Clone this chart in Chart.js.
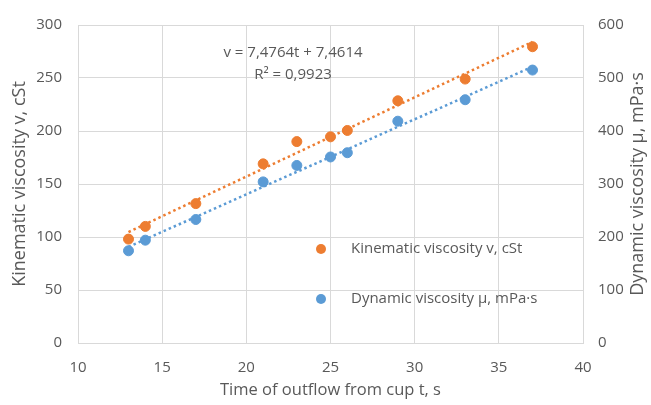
<!DOCTYPE html>
<html>
<head>
<meta charset="utf-8">
<title>Viscosity vs outflow time</title>
<script src="https://cdn.jsdelivr.net/npm/chart.js@4"></script>
<style>
  html, body { margin: 0; padding: 0; background: #fff; }
  #wrap { width: 651px; height: 405px; }
</style>
</head>
<body>
<div id="wrap"><canvas id="chart" width="651" height="405"></canvas></div>
<script>
// データ
const outflowTime = [13, 14, 17, 21, 23, 25, 26, 29, 33, 37];
const kinematic = [98, 110, 131.5, 169, 190, 194.5, 200.5, 228.5, 249, 279.5];
const dynamic = [174, 194, 233, 304, 335, 351, 359, 418.5, 459, 515];

const seriesNames = ['Kinematic viscosity v, cSt', 'Dynamic viscosity μ, mPa·s'];
const xTitle = 'Time of outflow from cup t, s';
const trendText = ['v = 7,4764t + 7,4614', 'R² = 0,9923'];
const trendSlope = 7.4764;
const trendIntercept = 7.4614;

const ORANGE = '#ED7D31';
const BLUE = '#5B9BD5';
const TXT = '#595959';
const GRID = '#D9D9D9';
const FAMILY = 'Open Sans';
const FONT = { family: FAMILY, size: 15 };

// 線形近似 (最小二乗)
function linFit(xs, ys) {
    const n = xs.length;
    let sx = 0, sy = 0, sxx = 0, sxy = 0;
    for (let i = 0; i < n; i++) { sx += xs[i]; sy += ys[i]; sxx += xs[i] * xs[i]; sxy += xs[i] * ys[i]; }
    const b = (n * sxy - sx * sy) / (n * sxx - sx * sx);
    return { b: b, a: (sy - b * sx) / n };
}

const tMin = outflowTime[0];
const tMax = outflowTime[outflowTime.length - 1];
const dynFit = linFit(outflowTime, dynamic);

const kinTrend = [tMin, tMax].map(t => ({ x: t, y: trendSlope * t + trendIntercept }));
const dynTrend = [tMin, tMax].map(t => ({ x: t, y: dynFit.b * t + dynFit.a }));

// 凡例・近似式・右軸タイトル
const overlayPlugin = {
    id: 'overlay',
    afterDraw(chart) {
        const ctx = chart.ctx;
        const a = chart.chartArea;
        ctx.save();
        ctx.font = `15px "${FAMILY}"`;
        ctx.fillStyle = TXT;
        ctx.textBaseline = 'middle';

        // 近似式
        ctx.textAlign = 'center';
        ctx.fillText(trendText[0], a.left + 215, 53);
        ctx.fillText(trendText[1], a.left + 215, 75);

        // 凡例
        const items = [[seriesNames[0], ORANGE, 249], [seriesNames[1], BLUE, 299]];
        items.forEach(it => {
            ctx.beginPath();
            ctx.fillStyle = it[1];
            ctx.arc(a.left + 243, it[2], 5, 0, Math.PI * 2);
            ctx.fill();
            ctx.fillStyle = TXT;
            ctx.textAlign = 'left';
            ctx.fillText(it[0], a.left + 273, it[2]);
        });

        // 右軸タイトル (下から上へ)
        ctx.font = `18px "${FAMILY}"`;
        ctx.translate(638, (a.top + a.bottom) / 2);
        ctx.rotate(-Math.PI / 2);
        ctx.textAlign = 'center';
        ctx.fillText(seriesNames[1], 0, 0);
        ctx.restore();
    }
};

new Chart(document.getElementById('chart'), {
    type: 'scatter',
    data: {
        datasets: [
            {
                label: seriesNames[0],
                data: outflowTime.map((t, i) => ({ x: t, y: kinematic[i] })),
                yAxisID: 'y',
                backgroundColor: ORANGE, borderColor: ORANGE,
                pointRadius: 5, pointHoverRadius: 5, order: 1
            },
            {
                label: seriesNames[1],
                data: outflowTime.map((t, i) => ({ x: t, y: dynamic[i] })),
                yAxisID: 'y1',
                backgroundColor: BLUE, borderColor: BLUE,
                pointRadius: 5, pointHoverRadius: 5, order: 1
            },
            {
                type: 'line', label: 'trend1', data: kinTrend, yAxisID: 'y',
                borderColor: ORANGE, borderWidth: 2.5, borderDash: [2.5, 3],
                pointRadius: 0, fill: false, order: 2
            },
            {
                type: 'line', label: 'trend2', data: dynTrend, yAxisID: 'y1',
                borderColor: BLUE, borderWidth: 2.5, borderDash: [2.5, 3],
                pointRadius: 0, fill: false, order: 2
            }
        ]
    },
    options: {
        responsive: false,
        animation: false,
        layout: { padding: { top: 19 } },
        plugins: { legend: { display: false }, tooltip: { enabled: false } },
        scales: {
            x: {
                type: 'linear', min: 10, max: 40,
                ticks: { stepSize: 5, color: TXT, font: FONT, padding: 16 },
                grid: { color: GRID, drawTicks: false },
                border: { color: GRID },
                title: { display: true, text: xTitle, color: TXT, font: { family: FAMILY, size: 16.5 }, padding: { top: 0, bottom: 5 } },
                afterFit(s) { s.height = 62; }
            },
            y: {
                position: 'left', min: 0, max: 300,
                ticks: { stepSize: 50, color: TXT, font: FONT, padding: 16 },
                grid: { color: GRID, drawTicks: false },
                border: { color: GRID },
                title: { display: true, text: seriesNames[0], color: TXT, font: { family: FAMILY, size: 18 }, padding: { top: 9, bottom: 0 } },
                afterFit(s) { s.width = 78; }
            },
            y1: {
                position: 'right', min: 0, max: 600,
                ticks: { stepSize: 100, color: TXT, font: FONT, padding: 15 },
                grid: { drawOnChartArea: false, drawTicks: false },
                border: { color: GRID },
                afterFit(s) { s.width = 68; }
            }
        }
    },
    plugins: [overlayPlugin]
});
</script>
</body>
</html>
